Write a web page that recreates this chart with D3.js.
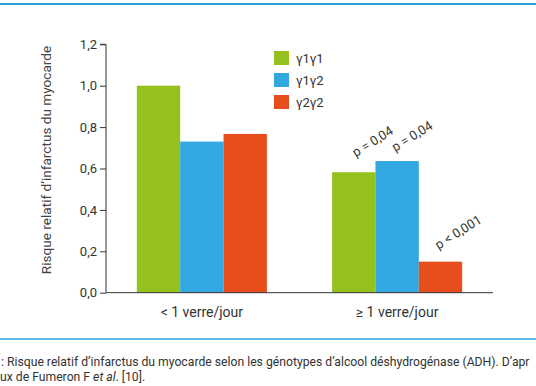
<!DOCTYPE html>
<html>
<head>
<meta charset="utf-8">
<script src="https://cdn.jsdelivr.net/npm/d3@7"></script>
<style>
  body { margin: 0; background: #fff; }
  svg { display: block; font-family: Roboto, "Noto Sans", sans-serif; }
</style>
</head>
<body>
<div id="chart"></div>
<script>
// data
const groups = ["< 1 verre/jour", "≥ 1 verre/jour"];
const genotypes = ["γ1γ1", "γ1γ2", "γ2γ2"];
const values1 = [1.0, 0.73, 0.767];   // < 1 verre/jour
const values2 = [0.582, 0.636, 0.15]; // ≥ 1 verre/jour
const pLabels = ["p = 0,04", "p = 0,04", "p < 0,001"];
const yTicks = [0, 0.2, 0.4, 0.6, 0.8, 1.0, 1.2];
const colors = ["#95c11f", "#33a7e0", "#e84e1b"];

const width = 536, height = 386;
const svg = d3.select("#chart").append("svg")
  .attr("width", width)
  .attr("height", height);

// frame lines top and bottom
svg.append("line")
  .attr("x1", 0).attr("x2", width).attr("y1", 4).attr("y2", 4)
  .attr("stroke", "#2aa3dc").attr("stroke-width", 2);
svg.append("line")
  .attr("x1", 0).attr("x2", width).attr("y1", 339).attr("y2", 339)
  .attr("stroke", "#2aa3dc").attr("stroke-width", 1.5);

let x0 = d3.scaleBand()
  .domain(groups)
  .range([106, 493])
  .paddingInner(0.334)
  .paddingOuter(0.158);

let x1 = d3.scaleBand()
  .domain(genotypes)
  .range([0, x0.bandwidth()]);

let y = d3.scaleLinear()
  .domain([0, 1.2])
  .range([292.7, 44.3]);

const rows = [values1, values2];
const table = [];
groups.forEach((g, i) => {
  genotypes.forEach((s, j) => {
    table.push({ group: g, geno: s, value: rows[i][j], idx: j });
  });
});

// bars
svg.append("g")
  .selectAll("rect")
  .data(table)
  .join("rect")
  .attr("x", d => x0(d.group) + x1(d.geno))
  .attr("y", d => y(d.value))
  .attr("width", x1.bandwidth())
  .attr("height", d => y(0) - y(d.value))
  .attr("fill", d => colors[d.idx]);

// y axis
const yAxis = svg.append("g")
  .attr("transform", "translate(106,0)")
  .call(d3.axisLeft(y).tickValues(yTicks).tickSize(6).tickPadding(3)
    .tickFormat(d => d3.format(".1f")(d).replace(".", ",")));
yAxis.select(".domain").attr("stroke", "#333").attr("d", `M-6,${y(1.2)}H0V${y(0)}`);
yAxis.selectAll(".tick line").attr("stroke", "#333");
yAxis.selectAll(".tick text").attr("fill", "#333").style("font-size", "13px");
yAxis.attr("font-family", null);

// x axis line
svg.append("line")
  .attr("x1", 106).attr("x2", 493)
  .attr("y1", y(0)).attr("y2", y(0))
  .attr("stroke", "#333");

// group labels
svg.append("g")
  .selectAll("text")
  .data(groups)
  .join("text")
  .attr("x", d => x0(d) + x0.bandwidth() / 2)
  .attr("y", 317)
  .attr("text-anchor", "middle")
  .attr("fill", "#333")
  .style("font-size", "14px")
  .text(d => d);

// y label
svg.append("text")
  .attr("transform", "translate(51,160) rotate(-90)")
  .attr("text-anchor", "middle")
  .attr("fill", "#444")
  .style("font-size", "13.6px")
  .text("Risque relatif d’infarctus du myocarde");

// p values over second group
const pOffsets = [[2, -15], [-2, -9], [-2, -12]];
svg.append("g")
  .selectAll("text")
  .data(genotypes)
  .join("text")
  .attr("transform", (d, j) => {
    const cx = x0(groups[1]) + x1(d) + x1.bandwidth() / 2 + pOffsets[j][0];
    const cy = y(values2[j]) + pOffsets[j][1];
    return `translate(${cx},${cy}) rotate(-32)`;
  })
  .attr("fill", "#333")
  .style("font-size", "13px")
  .text((d, j) => pLabels[j]);

// legend
const legend = svg.append("g")
  .selectAll("g")
  .data(genotypes)
  .join("g")
  .attr("transform", (d, i) => `translate(274,${51 + i * 22})`);
legend.append("rect")
  .attr("width", 15).attr("height", 14)
  .attr("fill", (d, i) => colors[i]);
legend.append("text")
  .attr("x", 22).attr("y", 12)
  .attr("fill", "#333")
  .style("font-size", "13px")
  .text(d => d);

// caption (cut at the page edge, as in the source)
svg.append("text")
  .attr("x", 1).attr("y", 366)
  .attr("fill", "#333")
  .style("font-size", "12.2px")
  .text(": Risque relatif d’infarctus du myocarde selon les génotypes d’alcool déshydrogénase (ADH). D’apr");
const cap2 = svg.append("text")
  .attr("x", 0).attr("y", 381)
  .attr("fill", "#333")
  .style("font-size", "12.2px");
cap2.append("tspan").text("ux de Fumeron F ");
cap2.append("tspan").style("font-style", "italic").text("et al");
cap2.append("tspan").text(". [10].");
</script>
</body>
</html>
